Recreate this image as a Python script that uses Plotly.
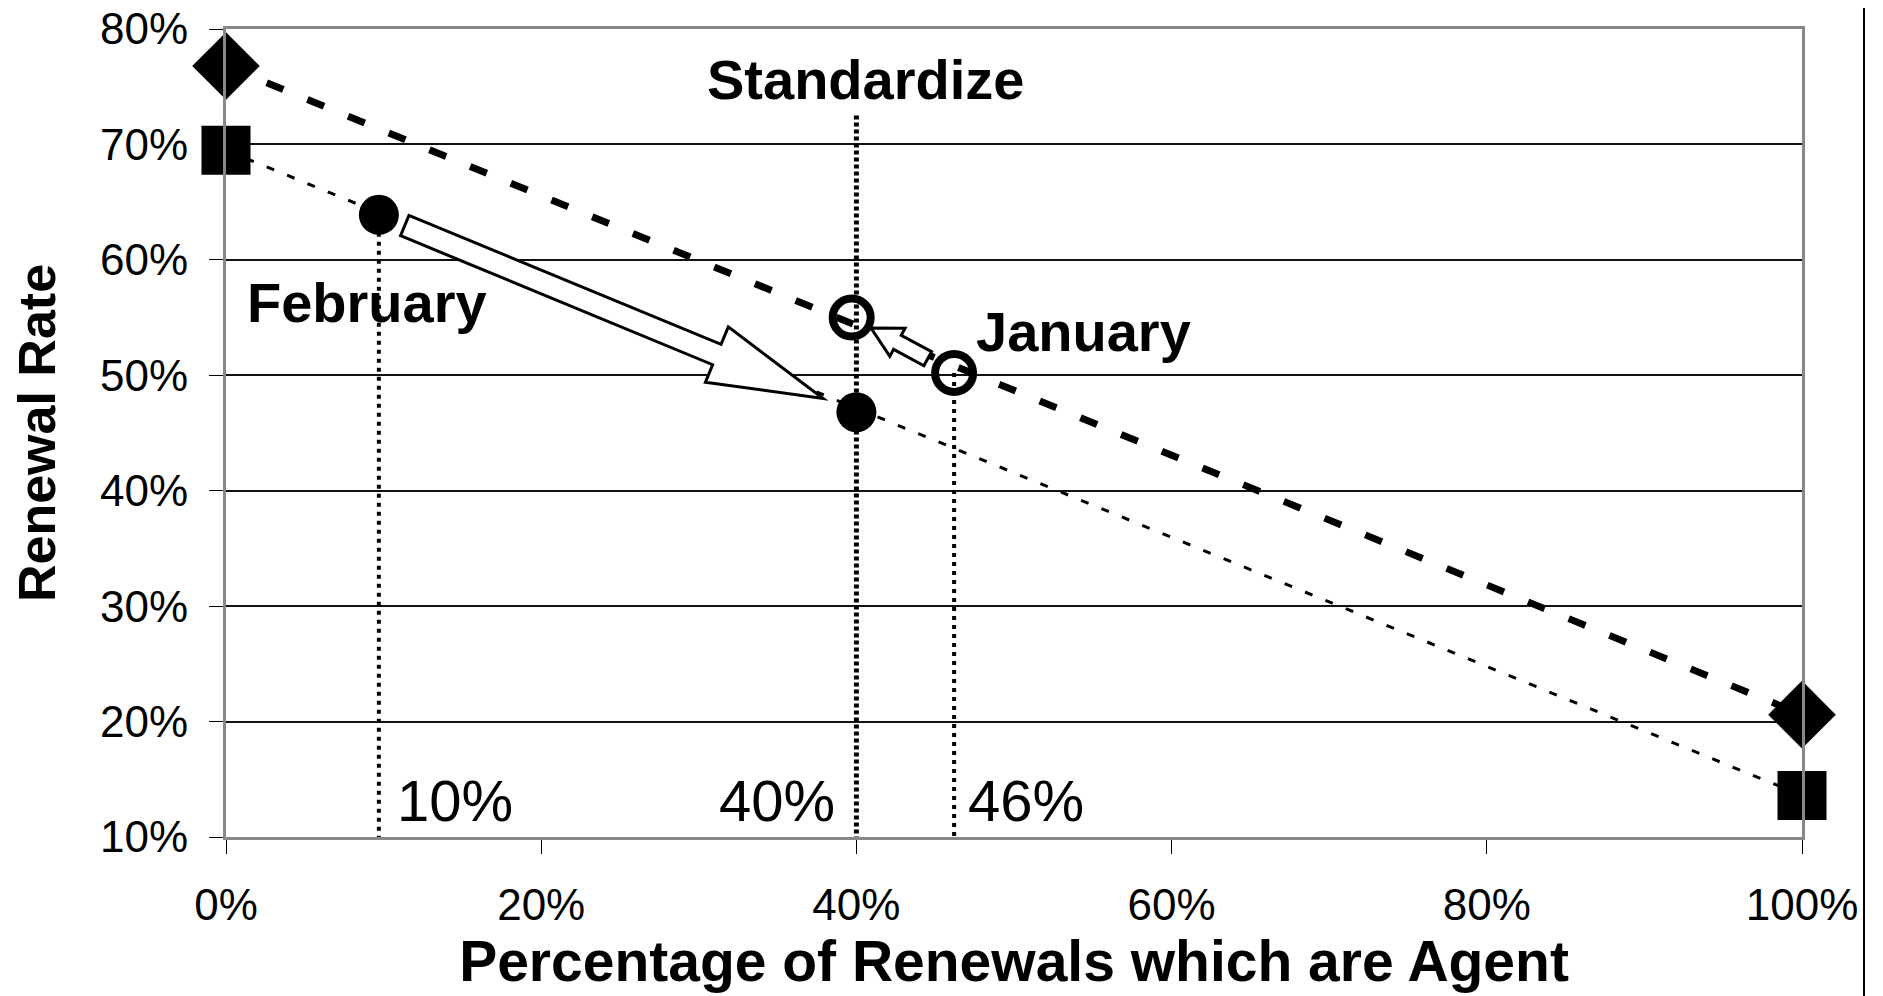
import math
import plotly.graph_objects as go

# ---------------- data ----------------
x_ticks = [0.0, 0.2, 0.4, 0.6, 0.8, 1.0]
y_ticks = [0.1, 0.2, 0.3, 0.4, 0.5, 0.6, 0.7, 0.8]

# upper (diamond) curve: renewal rate vs share of agent renewals
diamond_x = [0.0, 1.0]
diamond_y = [0.768, 0.206]
# lower (square) curve
square_x = [0.0, 1.0]
square_y = [0.695, 0.136]

# February points (filled circles): before -> after
feb_x = [0.097, 0.400]
feb_y = [0.639, 0.468]
# January points (open circles): before -> after
jan_x = [0.462, 0.397]
jan_y = [0.502, 0.550]

standardize_x = 0.40
standardize_top = 0.725

drop_labels = ["10%", "40%", "46%"]

# ---------------- layout constants ----------------
W, H = 1875, 988
ML, MR, MT, MB = 218, 81, 21, 159
XR = [0.0, 1.0]
YR = [0.1, 0.8]
PW = W - ML - MR
PH = H - MT - MB
FONT = "Liberation Sans, Arial, sans-serif"


def to_px(x, y):
    return (ML + (x - XR[0]) / (XR[1] - XR[0]) * PW,
            MT + (YR[1] - y) / (YR[1] - YR[0]) * PH)


def to_data(px, py):
    return (XR[0] + (px - ML) / PW * (XR[1] - XR[0]),
            YR[1] - (py - MT) / PH * (YR[1] - YR[0]))


def block_arrow(x0, y0, x1, y1, gap0, gap1, w, h, L):
    p0 = to_px(x0, y0)
    p1 = to_px(x1, y1)
    dx, dy = p1[0] - p0[0], p1[1] - p0[1]
    d = math.hypot(dx, dy)
    ux, uy = dx / d, dy / d
    nx, ny = -uy, ux
    tail = (p0[0] + gap0 * ux, p0[1] + gap0 * uy)
    tip = (p1[0] - gap1 * ux, p1[1] - gap1 * uy)
    base = (tip[0] - L * ux, tip[1] - L * uy)
    pts = [
        (tail[0] + w * nx, tail[1] + w * ny),
        (base[0] + w * nx, base[1] + w * ny),
        (base[0] + h * nx, base[1] + h * ny),
        tip,
        (base[0] - h * nx, base[1] - h * ny),
        (base[0] - w * nx, base[1] - w * ny),
        (tail[0] - w * nx, tail[1] - w * ny),
    ]
    dpts = [to_data(px, py) for px, py in pts]
    return "M " + " L ".join(f"{x:.5f},{y:.5f}" for x, y in dpts) + " Z"


fig = go.Figure()

# vertical drop lines
fig.add_trace(go.Scatter(x=[feb_x[0], feb_x[0]], y=[feb_y[0], YR[0]], mode="lines",
                         line=dict(color="black", width=4, dash="4px,5px"),
                         showlegend=False, hoverinfo="skip"))
fig.add_trace(go.Scatter(x=[jan_x[0], jan_x[0]], y=[jan_y[0], YR[0]], mode="lines",
                         line=dict(color="black", width=4, dash="4px,5px"),
                         showlegend=False, hoverinfo="skip"))
fig.add_trace(go.Scatter(x=[standardize_x, standardize_x], y=[standardize_top, YR[0]], mode="lines",
                         line=dict(color="black", width=5, dash="4px,3px"),
                         showlegend=False, hoverinfo="skip"))

# the two curves
fig.add_trace(go.Scatter(x=diamond_x, y=diamond_y, mode="lines+markers",
                         line=dict(color="black", width=7, dash="18px,26px"),
                         marker=dict(symbol="diamond", size=52, color="black"),
                         cliponaxis=False, showlegend=False))
fig.add_trace(go.Scatter(x=square_x, y=square_y, mode="lines+markers",
                         line=dict(color="black", width=3, dash="8px,14px"),
                         marker=dict(symbol="square", size=49, color="black"),
                         cliponaxis=False, showlegend=False))

# month points
fig.add_trace(go.Scatter(x=feb_x, y=feb_y, mode="markers",
                         marker=dict(symbol="circle", size=40, color="black"),
                         cliponaxis=False, showlegend=False, name="February"))
fig.add_trace(go.Scatter(x=jan_x, y=jan_y, mode="markers",
                         marker=dict(symbol="circle-open", size=38, color="black",
                                     line=dict(width=8, color="black")),
                         cliponaxis=False, showlegend=False, name="January"))

# block arrows
shapes = [
    dict(type="path", xref="x", yref="y",
         path=block_arrow(feb_x[0], feb_y[0], feb_x[1], feb_y[1], 28, 36, 11, 30, 115),
         fillcolor="white", line=dict(color="black", width=3), layer="above"),
    dict(type="path", xref="x", yref="y",
         path=block_arrow(jan_x[0], jan_y[0], jan_x[1], jan_y[1], 30, 22, 8, 16, 30),
         fillcolor="white", line=dict(color="black", width=3), layer="above"),
    # right border of chart area
    dict(type="line", xref="paper", yref="paper",
         x0=(1856 - ML) / PW, x1=(1856 - ML) / PW,
         y0=-(MB / PH), y1=1 + MT / PH,
         line=dict(color="black", width=2)),
]

bold = dict(family=FONT, size=56, color="black")
reg = dict(family=FONT, size=58, color="black")
annotations = [
    dict(x=0.406, y=0.756, text="<b>Standardize</b>", showarrow=False, font=bold,
         xanchor="center", yanchor="middle"),
    dict(x=0.0895, y=0.563, text="<b>February</b>", showarrow=False, font=bold,
         xanchor="center", yanchor="middle"),
    dict(x=0.544, y=0.538, text="<b>January</b>", showarrow=False, font=bold,
         xanchor="center", yanchor="middle"),
    dict(x=feb_x[0], y=0.132, text=drop_labels[0], showarrow=False, font=reg,
         xanchor="left", yanchor="middle", xshift=16),
    dict(x=standardize_x, y=0.132, text=drop_labels[1], showarrow=False, font=reg,
         xanchor="right", yanchor="middle", xshift=-19),
    dict(x=jan_x[0], y=0.132, text=drop_labels[2], showarrow=False, font=reg,
         xanchor="left", yanchor="middle", xshift=12),
]

axis_common = dict(showline=True, mirror=True, linecolor="#888888", linewidth=3,
                   ticks="outside", ticklen=14, tickcolor="black", tickwidth=1,
                   tickfont=dict(family=FONT, size=44, color="black"),
                   ticklabeloverflow="allow", zeroline=False)

fig.update_layout(
    width=W, height=H,
    margin=dict(l=ML, r=MR, t=MT, b=MB, autoexpand=False),
    paper_bgcolor="white", plot_bgcolor="white",
    shapes=shapes, annotations=annotations,
    xaxis=dict(range=XR, tickvals=x_ticks, tickformat=".0%", showgrid=False,
               ticklabelstandoff=13, automargin=False,
               title=dict(text="<b>Percentage of Renewals which are Agent</b>",
                          font=dict(family=FONT, size=57, color="black"), standoff=4),
               **axis_common),
    yaxis=dict(range=YR, tickvals=y_ticks, tickformat=".0%", showgrid=True,
               gridcolor="#111111", gridwidth=1.5, ticklabelstandoff=12, automargin=False,
               title=dict(text="<b>Renewal Rate</b>",
                          font=dict(family=FONT, size=52, color="black"), standoff=30),
               **axis_common),
)

fig.write_html("out.html")
